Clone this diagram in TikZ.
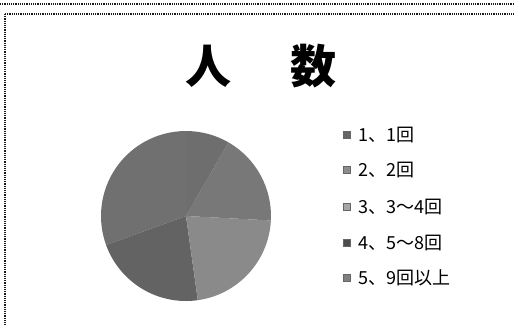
\documentclass[tikz,border=0pt]{standalone}
\usepackage{fontspec}
\newfontfamily\jp{Noto Sans CJK JP}
\usetikzlibrary{positioning}
\tikzset{
  frame/.style={densely dotted, line width=1.2pt, black!90},
  key/.style={draw=black!60, line width=0.4pt, minimum size=7pt, inner sep=0pt},
  keytext/.style={font=\jp\fontsize{18}{18}\selectfont, inner sep=0pt, anchor=west}
}
\begin{document}
\begin{tikzpicture}[x=1pt, y=-1pt]
  \useasboundingbox (0,0) rectangle (514,325);
  \draw[frame] (0,4) -- (514,4);
  \draw[frame] (5,14) -- (514,14) (5,14) -- (5,325);
  \node (title) at (261,66) {\jp\bfseries\fontsize{46}{46}\selectfont 人\hspace{60pt}数};
  % pie
  \coordinate (c) at (186,216);
  \foreach \a/\b/\g in {90/200/56, 200/278/61, 278/357/46, 357/420/53, 420/450/57} {
    \fill[black!\g] (c) -- ++(-\a:85) arc[start angle=-\a, end angle=-\b, radius=85] -- cycle;
  }
  % legend
  \foreach \y/\t/\g [count=\i] in {135/1、1回/60, 170/2、2回/45, 207/3、3～4回/35, 243/4、5～8回/70, 278/5、9回以上/50} {
    \node[key, fill=black!\g] (k\i) at (346.5,\y) {};
    \node[keytext, right=8pt of k\i] (t\i) {\t};
  }
\end{tikzpicture}
\end{document}
